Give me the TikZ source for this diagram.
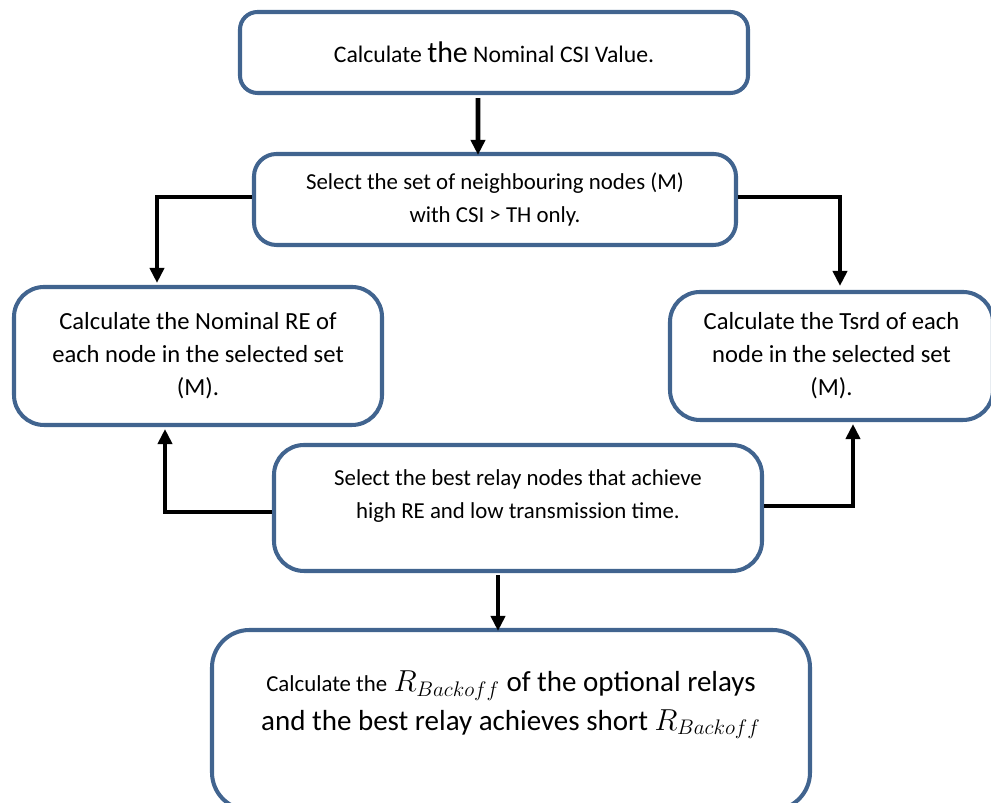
\documentclass[tikz,border=0pt]{standalone}
\usepackage{fontspec}
\setmainfont{Carlito}
\usetikzlibrary{positioning}
\usetikzlibrary{arrows.meta}
\definecolor{boxblue}{RGB}{65,100,143}

\begin{document}
\begin{tikzpicture}[
			node distance=2cm,
			state/.style={rectangle, rounded corners=0.45cm, draw=boxblue, line width=2.3pt, text centered, align=center, font=\fontsize{13}{18.7}\selectfont},
			link/.style={arrows=-{Triangle[length=0.3cm,width=0.28cm]}, line width=2.7pt, black},
			]
			\useasboundingbox (0,0) rectangle (19.82,16.06);
			
			\node[state, minimum width=10.16cm, minimum height=1.62cm, rounded corners=0.35cm] (s_0) at (9.88,15.01) {\fontsize{13.5}{18}\selectfont Calculate {\fontsize{17}{18}\selectfont the} Nominal CSI Value.};
			\node[state, minimum width=9.64cm, minimum height=1.82cm] (s_1) [below of=s_0, xshift=0.02cm, yshift=-0.94cm] {Select the set of neighbouring nodes (M)\\with CSI > TH only.};
			\node[state, minimum width=7.36cm, minimum height=2.76cm, font=\fontsize{14}{18.7}\selectfont, rounded corners=0.6cm] (s_2) [below of=s_1, xshift=-5.94cm, yshift=-1.13cm] {Calculate the Nominal RE of\\each node in the selected set\\(M).};
			\node[state, minimum width=6.46cm, minimum height=2.56cm, font=\fontsize{14}{18.7}\selectfont, rounded corners=0.6cm] (s_3) [below of=s_1, xshift=6.73cm, yshift=-1.13cm] {Calculate the Tsrd of each\\node in the selected set\\(M).};
			\node[state, minimum width=9.76cm, minimum height=2.52cm, rounded corners=0.6cm] (s_4) [below of=s_1, xshift=0.46cm, yshift=-4.17cm] {Select the best relay nodes that achieve\\high RE and low transmission time.\\[-3pt]\mbox{}};
			\node[state, minimum width=11.96cm, minimum height=3.6cm, font=\fontsize{16.5}{22}\selectfont, rounded corners=0.75cm] (s_5) [below of=s_4, xshift=-0.14cm, yshift=-2.24cm] {{\fontsize{13}{22}\selectfont Calculate the} $R_{Backoff}$ of the optional relays\\and the best relay achieves short $R_{Backoff}$\\[0pt]\mbox{}};
			
			\draw [link] ([xshift=-0.32cm, yshift=-0.06cm]s_0.south) -- ([xshift=-0.34cm, yshift=-0.06cm]s_1.north);
			\draw [link] ([yshift=0.05cm]s_1.west) -| ([xshift=-0.82cm, yshift=0.04cm]s_2.north);
			\draw [link] ([yshift=0.05cm]s_1.east) -| ([xshift=0.17cm, yshift=0.08cm]s_3.north);
			\draw [link] ([yshift=-0.08cm]s_4.west) -| ([xshift=-0.66cm, yshift=-0.04cm]s_2.south);
			\draw [link] ([yshift=0.04cm]s_4.east) -| ([xshift=0.43cm, yshift=-0.04cm]s_3.south);
			\draw [link] ([xshift=-0.4cm, yshift=-0.04cm]s_4.south) -- ([xshift=-0.26cm, yshift=-0.06cm]s_5.north);
			
\end{tikzpicture}
\end{document}
